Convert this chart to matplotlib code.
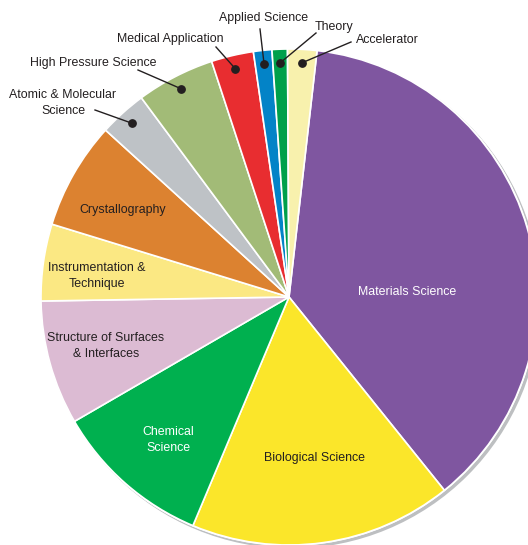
import numpy as np
import matplotlib

matplotlib.use("Agg")
import matplotlib.pyplot as plt
from matplotlib.patches import Circle

plt.rcParams["font.family"] = ["Liberation Sans", "DejaVu Sans"]

# clockwise from the Materials Science wedge
labels = [
    "Materials Science", "Biological Science", "Chemical\nScience",
    "Structure of Surfaces\n& Interfaces", "Instrumentation &\nTechnique",
    "Crystallography", "Atomic & Molecular\nScience", "High Pressure Science",
    "Medical Application", "Applied Science", "Theory", "Accelerator",
]
shares = [37.4, 17.1, 10.3, 8.1, 5.0, 7.0, 3.1, 5.1, 2.75, 1.2, 1.0, 1.9]
colors = [
    "#7F56A0", "#FBE62A", "#00B04F", "#DCBBD3", "#FBE883", "#DC8230",
    "#BEC2C6", "#A2BB77", "#E82D30", "#0383C7", "#00A04B", "#F8F1AD",
]
white_text = [True, False, True, False, False, False]

W, H = 528, 545
cx, cy, R = 289, H - 297, 248
start = 83.5
FS = 8.9

fig = plt.figure(figsize=(W / 100, H / 100), dpi=100)
ax = fig.add_axes([0, 0, 1, 1])

# drop shadow
ax.add_patch(Circle((cx + 2.5, cy - 2.5), R + 1, facecolor="#BDBFC1", edgecolor="none", zorder=0))
ax.add_patch(Circle((cx, cy), R + 1, facecolor="white", edgecolor="none", zorder=0.5))

wedges, _ = ax.pie(
    shares, colors=colors, startangle=start, counterclock=False,
    center=(cx, cy), radius=R, frame=True,
    wedgeprops=dict(edgecolor="white", linewidth=1.2),
)
for w in wedges:
    w.set_zorder(1)

# inside label positions (image px)
inside_pos = [(407, 292), (315, 458), (168, 440), (106, 346), (97, 276), (123, 210)]
for i, (x, y) in enumerate(inside_pos):
    ax.text(x, H - y, labels[i], ha="center", va="center", fontsize=FS,
            color="white" if white_text[i] else "#231F20", linespacing=1.35, zorder=3)

# outside labels: text position, leader start (image px)
outside = {
    6: ((63, 103), (95, 110)),
    7: ((93, 63), (138, 70)),
    8: ((170, 39), (216, 47)),
    9: ((264, 18), (260, 29)),
    10: ((334, 27), (316, 33)),
    11: ((387, 40), (351, 42)),
}
cum = np.cumsum([0] + shares)
total = cum[-1]
for i, ((tx, ty), (lx, ly)) in outside.items():
    mid = start - 360 * (cum[i] + cum[i + 1]) / 2 / total
    dx = cx + 0.945 * R * np.cos(np.radians(mid))
    dy = cy + 0.945 * R * np.sin(np.radians(mid))
    ax.plot([lx, dx], [H - ly, dy], color="#231F20", lw=1.0, zorder=3)
    ax.scatter([dx], [dy], s=28, color="#231F20", zorder=4)
    ax.text(tx, H - ty, labels[i], ha="center", va="center", fontsize=FS,
            color="#231F20", linespacing=1.35, zorder=3)

ax.set_xlim(0, W)
ax.set_ylim(0, H)
ax.set_aspect("equal")
ax.axis("off")

fig.savefig("out.png", dpi=100)
